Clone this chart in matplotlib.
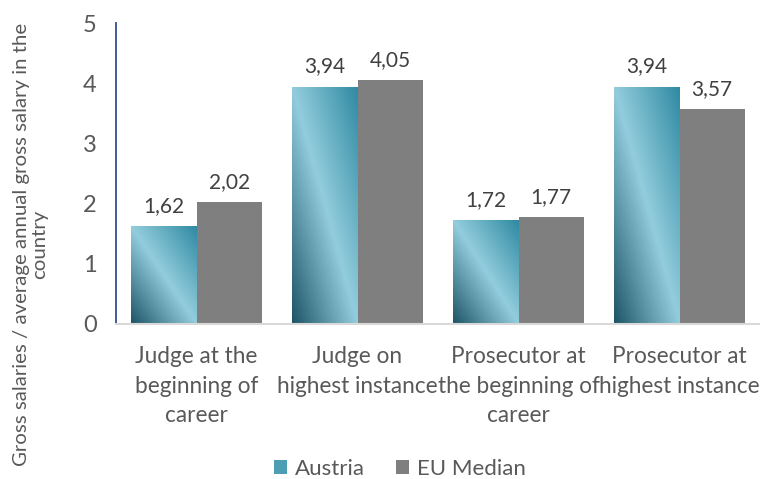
import matplotlib.pyplot as plt
import numpy as np
from matplotlib.colors import LinearSegmentedColormap
from matplotlib.patches import Patch

categories = ['Judge at the\nbeginning of\ncareer', 'Judge on\nhighest instance',
              'Prosecutor at\nthe beginning of\ncareer', 'Prosecutor at\nhighest instance']
austria = [1.62, 3.94, 1.72, 3.94]
eu_median = [2.02, 4.05, 1.77, 3.57]
series_names = ['Austria', 'EU Median']

plt.rcParams['font.family'] = ['Lato', 'DejaVu Sans']
TXT = '#595959'
GRAY = '#7f7f7f'
grad = LinearSegmentedColormap.from_list('aut', [(0, '#1d5566'), (0.5, '#93cddd'), (1, '#2f8aa2')])

fig = plt.figure(figsize=(7.6, 4.79), dpi=100)
ax = fig.add_axes([116 / 760, 1 - 324 / 479, 644 / 760, 301 / 479])

x = np.arange(len(categories))
w = 0.405
bars_a = ax.bar(x - w / 2, austria, w, color='none')
bars_e = ax.bar(x + w / 2, eu_median, w, color=GRAY)

# diagonal gradient fill for Austria bars
u, v = np.meshgrid(np.linspace(0, 1, 100), np.linspace(0, 1, 100))
t = (u + v) / 2
for b in bars_a:
    x0, y0, bw, bh = b.get_x(), b.get_y(), b.get_width(), b.get_height()
    im = ax.imshow(t, cmap=grad, vmin=0, vmax=1, origin='lower', aspect='auto',
                   extent=(x0, x0 + bw, y0, y0 + bh), interpolation='bilinear', zorder=2)
    im.set_clip_path(b)

for bars, vals in ((bars_a, austria), (bars_e, eu_median)):
    for b, val in zip(bars, vals):
        ax.text(b.get_x() + b.get_width() / 2, val + 0.17, f'{val:.2f}'.replace('.', ','),
                ha='center', va='bottom', fontsize=15, color='#404040')

ax.set_xlim(-0.5, len(categories) - 0.5)
ax.set_ylim(0, 5)
ax.set_yticks(range(6))
ax.set_xticks(x)
ax.set_xticklabels(categories, fontsize=16.3, color=TXT, linespacing=1.5)
ax.tick_params(axis='y', labelsize=17, labelcolor=TXT, length=0, pad=14)
ax.tick_params(axis='x', length=0, pad=16)
for s in ['top', 'right']:
    ax.spines[s].set_visible(False)
ax.spines['left'].set_color('#2f4f8f')
ax.spines['left'].set_linewidth(1.3)
ax.spines['bottom'].set_color('#d9d9d9')
ax.spines['bottom'].set_linewidth(1.5)

fig.text(0.04, 0.49, 'Gross salaries / average annual gross salary in the\ncountry',
         rotation=90, ha='center', va='center', fontsize=14.7, color=TXT, linespacing=1.1)

handles = [Patch(facecolor='#4d9db3', label=series_names[0]),
           Patch(facecolor=GRAY, label=series_names[1])]
fig.legend(handles=handles, loc='center', bbox_to_anchor=(400 / 760, 1 - 469 / 479), ncol=2,
           frameon=False, fontsize=16, labelcolor=TXT, handlelength=0.6, handleheight=0.6,
           handletextpad=0.35, columnspacing=1.4)

fig.savefig('out.png', dpi=100)
